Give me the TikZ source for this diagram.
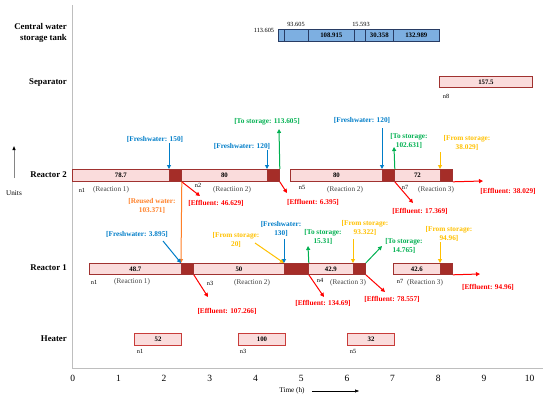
\documentclass[tikz,border=0pt]{standalone}
\usepackage{fontspec}
\setmainfont{Liberation Serif}
\usetikzlibrary{arrows.meta}
\definecolor{segpink}{RGB}{250,220,220}
\definecolor{segborder}{RGB}{160,50,48}
\definecolor{segdark}{RGB}{165,45,40}
\definecolor{heatborder}{RGB}{200,60,58}
\definecolor{tankblue}{RGB}{125,175,225}
\definecolor{tankborder}{RGB}{40,60,100}
\definecolor{fwblue}{RGB}{0,125,200}
\definecolor{tsgreen}{RGB}{0,176,80}
\definecolor{fsgold}{RGB}{255,192,0}
\definecolor{rworange}{RGB}{255,128,40}
\definecolor{effred}{RGB}{255,0,0}
\definecolor{axisgray}{RGB}{190,190,190}
\tikzset{
  lseg/.style={draw=segborder, fill=segpink, line width=0.8pt, inner sep=0pt,
    minimum height=12pt, anchor=north west, font=\fontsize{6.8}{7}\selectfont\bfseries},
  dseg/.style={lseg, fill=segdark},
  hseg/.style={lseg, draw=heatborder, line width=1pt},
  tseg/.style={lseg, draw=tankborder, fill=tankblue, line width=0.6pt},
  unitname/.style={anchor=east, align=right, font=\fontsize{8.8}{10.5}\selectfont\bfseries, inner sep=0pt},
  note/.style={align=center, inner sep=0pt, font=\fontsize{7.3}{9}\selectfont\bfseries},
  tag/.style={inner sep=0pt, font=\fontsize{6.3}{7}\selectfont},
  react/.style={inner sep=0pt, text=black!75, font=\fontsize{7.2}{8}\selectfont},
  flow/.style={-{Triangle[length=4pt,width=4pt]}, line width=1pt},
  tick/.style={inner sep=0pt, font=\fontsize{9.5}{10}\selectfont}
}
\begin{document}
\begin{tikzpicture}[x=1pt,y=-1pt]
\useasboundingbox (0,0) rectangle (550,402);
% axes
\draw[axisgray, line width=0.8pt] (72,5) -- (72,368) -- (543,368);
\foreach \t in {0,...,10}
  \node[tick] (tk\t) at (72.7+45.7*\t,378) {\t};
\node[react, text=black] (timelab) at (292,391) {Time (h)};
\coordinate (timeend) at (359,391);
\draw[-{Triangle[length=4pt,width=3pt]}, line width=0.5pt] (timelab.east) ++(7,0) -- (timeend);
\node[react, text=black] (unitlab) at (14,193) {Units};
\coordinate (unittop) at (14,146);
\draw[-{Triangle[length=4pt,width=3pt,black]}, axisgray!70!black, line width=1pt] (14,178) -- (unittop);
% unit names
\node[unitname] (tankname) at (67,33) {Central water\\storage tank};
\node[unitname] (sepname) at (67,83) {Separator};
\node[unitname] (r2name) at (67,175) {Reactor 2};
\node[unitname] (r1name) at (67,268) {Reactor 1};
\node[unitname] (heatname) at (67,339) {Heater};

% central water storage tank
\node[tseg, minimum width=6pt] (t1) at (278,29) {};
\node[tseg, minimum width=24pt] (t2) at (284,29) {};
\node[tseg, minimum width=46pt] (t3) at (308,29) {108.915};
\node[tseg, minimum width=11pt] (t4) at (354,29) {};
\node[tseg, minimum width=28pt] (t5) at (365,29) {30.358};
\node[tseg, minimum width=46pt] (t6) at (393,29) {132.989};
\node[tag] (tv1) at (264,30) {113.605};
\node[tag] (tv2) at (296,24) {93.605};
\node[tag] (tv3) at (361,24) {15.593};

% separator
\node[lseg, minimum width=93pt, minimum height=11pt] (s1) at (439,76) {157.5};
\node[tag] (sn8) at (446,96) {n8};

% reactor 2
\node[lseg, minimum width=97pt] (r2a) at (72,169) {78.7};
\node[dseg, minimum width=12pt] (r2b) at (169,169) {};
\node[lseg, minimum width=86pt] (r2c) at (181,169) {80};
\node[dseg, minimum width=12pt] (r2d) at (267,169) {};
\node[lseg, minimum width=92pt] (r2e) at (290,169) {80};
\node[dseg, minimum width=12pt] (r2f) at (382,169) {};
\node[lseg, minimum width=46pt] (r2g) at (394,169) {72};
\node[dseg, minimum width=12pt] (r2h) at (440,169) {};
\node[tag] (r2n1) at (82,190) {n1};
\node[react] (r2x1) at (111,190) {(Reaction 1)};
\node[tag] (r2n2) at (198,185) {n2};
\node[react] (r2x2) at (232,190) {(Reactiion 2)};
\node[tag] (r2n5) at (302,187) {n5};
\node[react] (r2x5) at (345,190) {(Reaction 2)};
\node[tag] (r2n7) at (405,187) {n7};
\node[react] (r2x7) at (436,190) {(Reaction 3)};

% reactor 1
\node[lseg, minimum width=92pt, minimum height=11pt] (r1a) at (89,263) {48.7};
\node[dseg, minimum width=12pt, minimum height=11pt] (r1b) at (181,263) {};
\node[lseg, minimum width=91pt, minimum height=11pt] (r1c) at (193,263) {50};
\node[dseg, minimum width=24pt, minimum height=11pt] (r1d) at (284,263) {};
\node[lseg, minimum width=45pt, minimum height=11pt] (r1e) at (308,263) {42.9};
\node[dseg, minimum width=12pt, minimum height=11pt] (r1f) at (353,263) {};
\node[lseg, minimum width=47pt, minimum height=11pt] (r1g) at (393,263) {42.6};
\node[dseg, minimum width=12pt, minimum height=11pt] (r1h) at (440,263) {};
\node[tag] (r1n1) at (94,282) {n1};
\node[react] (r1x1) at (132,282) {(Reaction 1)};
\node[tag] (r1n3) at (210,283) {n3};
\node[react] (r1x3) at (252,283) {(Reaction 2)};
\node[tag] (r1n4) at (320,280) {n4};
\node[react] (r1x4) at (348,283) {(Reaction 3)};
\node[tag] (r1n7) at (400,281) {n7};
\node[react] (r1x7) at (425,283) {(Reaction 3)};

% heater
\node[hseg, minimum width=47pt] (h1) at (134,333) {52};
\node[hseg, minimum width=47pt] (h2) at (238,333) {100};
\node[hseg, minimum width=47pt] (h3) at (347,333) {32};
\node[tag] (hn1) at (140,351) {n1};
\node[tag] (hn3) at (243,351) {n3};
\node[tag] (hn5) at (353,351) {n5};

% streams of reactor 2
\node[note, fwblue] (fw150) at (155,139) {[Freshwater: 150]};
\coordinate (fw150s) at (169,143);
\draw[flow, fwblue] (fw150s) -- (r2b.north west);
\node[note, fwblue] (fw120) at (242,146) {[Freshwater: 120]};
\coordinate (fw120s) at (267,150);
\draw[flow, fwblue] (fw120s) -- (r2d.north west);
\node[note, tsgreen] (ts113) at (267,122) {[To storage: 113.605]};
\coordinate (ts113e) at (279,129);
\draw[flow, tsgreen] (r2d.north east) -- (ts113e);
\node[note, effred] (ef46) at (216,203) {[Effluent: 46.629]};
\coordinate (ef46e) at (200,196);
\draw[flow, effred] (r2b.south east) -- (ef46e);
\node[note, rworange] (rw103) at (152,205.5) {[Reused water:\\103.371]};
\draw[flow, rworange] (r2b.south east) -- (r1b.north west);
\node[note, effred] (ef6) at (313,202) {[Effluent: 6.395]};
\coordinate (ef6e) at (287,193);
\draw[flow, effred] (r2d.south east) -- (ef6e);
\node[note, fwblue] (fw120b) at (362,120) {[Freshwater: 120]};
\coordinate (fw120bs) at (382,128);
\draw[flow, fwblue] (fw120bs) -- (r2f.north west);
\node[note, tsgreen] (ts102) at (409,140.5) {[To storage:\\102.631]};
\coordinate (ts102e) at (394,147);
\draw[flow, tsgreen] (r2f.north east) -- (ts102e);
\node[note, fsgold] (fs38) at (467,143) {[From storage:\\38.029]};
\coordinate (fs38s) at (440,152);
\draw[flow, fsgold] (fs38s) -- (r2h.north west);
\node[note, effred] (ef17) at (420,211) {[Effluent: 17.369]};
\coordinate (ef17e) at (413,203);
\draw[flow, effred] (r2f.south east) -- (ef17e);
\node[note, effred] (ef38) at (508,191) {[Effluent: 38.029]};
\coordinate (ef38e) at (483,181);
\draw[flow, effred] (r2h.south east) -- (ef38e);

% streams of reactor 1
\node[note, fwblue] (fw3) at (137,234) {[Freshwater: 3.895]};
\coordinate (fw3s) at (163,241);
\draw[flow, fwblue] (fw3s) -- (r1b.north west);
\node[note, effred] (ef107) at (227,311) {[Effluent: 107.266]};
\coordinate (ef107e) at (208,297);
\draw[flow, effred] (r1b.south east) -- (ef107e);
\node[note, fsgold] (fs20) at (236,239.5) {[From storage:\\20]};
\coordinate (fs20s) at (255,243);
\draw[flow, fsgold] (fs20s) -- (r1d.north west);
\node[note, fwblue] (fw130) at (281,228.5) {[Freshwater:\\130]};
\coordinate (fw130s) at (284,239);
\draw[flow, fwblue] (fw130s) -- (r1d.north west);
\node[note, tsgreen] (ts15) at (323,236.5) {[To storage:\\15.31]};
\coordinate (ts15e) at (308,246);
\draw[flow, tsgreen] (r1d.north east) -- (ts15e);
\node[note, effred] (ef134) at (323,303) {[Effluent: 134.69]};
\coordinate (ef134e) at (324,297);
\draw[flow, effred] (r1d.south east) -- (ef134e);
\node[note, fsgold] (fs93) at (365,228) {[From storage:\\93.322]};
\coordinate (fs93s) at (353,239);
\draw[flow, fsgold] (fs93s) -- (r1f.north west);
\node[note, tsgreen] (ts14) at (404,245.5) {[To storage:\\14.765]};
\coordinate (ts14e) at (382,246);
\draw[flow, tsgreen] (r1f.north east) -- (ts14e);
\node[note, effred] (ef78) at (392,299) {[Effluent: 78.557]};
\coordinate (ef78e) at (385,292);
\draw[flow, effred] (r1f.south east) -- (ef78e);
\node[note, fsgold] (fs94) at (449,234) {[From storage:\\94.96]};
\coordinate (fs94s) at (440,242);
\draw[flow, fsgold] (fs94s) -- (r1h.north west);
\node[note, effred] (ef94) at (488,287) {[Effluent: 94.96]};
\coordinate (ef94e) at (480,274);
\draw[flow, effred] (r1h.south east) -- (ef94e);
\end{tikzpicture}
\end{document}
